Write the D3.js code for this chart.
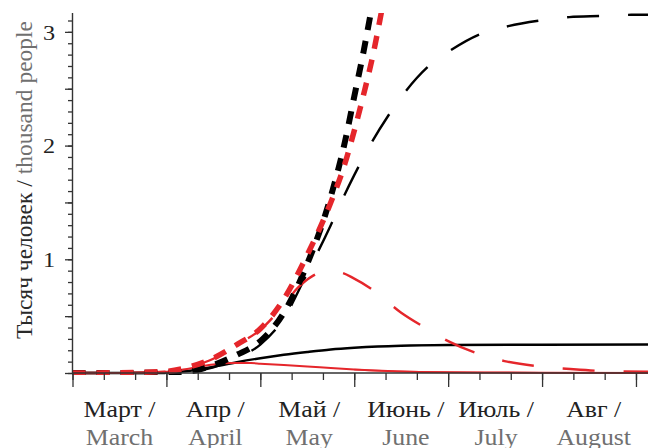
<!DOCTYPE html>
<html><head><meta charset="utf-8">
<script src="https://cdn.jsdelivr.net/npm/d3@7"></script>
<style>body{margin:0;background:#fff}svg{display:block}</style>
</head><body><svg id="c" width="648" height="448"></svg>
<script>
// x in month units: 0 = 1 March, 1 = 1 April, ...
const monthsRu = ["Март /","Апр /","Май /","Июнь /","Июль /","Авг /"];
const monthsEn = ["March","April","May","June","July","August"];
const yTickLabels = [1,2,3];

const blackSolidX = [0,0.5,1.0,1.25,1.5,1.75,2.0,2.25,2.5,2.75,3.0,3.25,3.5,4.0,5.0,6.13];
const blackSolidY = [0,0,0.005,0.02,0.055,0.095,0.13,0.16,0.185,0.207,0.222,0.233,0.24,0.246,0.249,0.25];

const redSolidX = [0,0.5,1.0,1.25,1.5,1.7,1.9,2.0,2.25,2.5,2.75,3.0,3.5,4.0,4.5,5.0,6.13];
const redSolidY = [0,0,0.01,0.04,0.075,0.088,0.087,0.082,0.07,0.058,0.043,0.03,0.014,0.007,0.004,0.002,0];

const blackLongX = [0,0.5,1.0,1.25,1.5,1.75,2.0,2.25,2.5,2.75,2.87,3.0,3.18,3.36,3.54,3.78,4.03,4.34,4.64,4.98,5.29,5.63,5.95,6.13];
const blackLongY = [0,0,0,0.01,0.05,0.13,0.25,0.48,0.88,1.3,1.52,1.74,2.02,2.26,2.47,2.69,2.84,2.98,3.05,3.10,3.13,3.14,3.15,3.15];

const redLongX = [0,0.5,1.0,1.25,1.5,1.75,2.0,2.25,2.4,2.55,2.7,2.85,3.0,3.2,3.5,3.75,4.0,4.3,4.6,5.0,5.3,5.65,6.13];
const redLongY = [0,0,0.012,0.055,0.125,0.25,0.38,0.6,0.75,0.85,0.895,0.885,0.83,0.73,0.53,0.4,0.28,0.175,0.105,0.055,0.035,0.018,0.012];

const blackDotX = [0,0.5,1.0,1.25,1.5,1.75,2.0,2.25,2.5,2.75,2.9,3.0,3.1,3.15,3.25];
const blackDotY = [0,0,0.005,0.015,0.07,0.16,0.28,0.53,0.96,1.55,2.03,2.43,2.83,3.05,3.5];

const redDotX = [0,0.5,1.0,1.25,1.5,1.75,2.0,2.25,2.5,2.75,2.9,3.0,3.1,3.2,3.27,3.35];
const redDotY = [0,0.003,0.015,0.055,0.13,0.25,0.39,0.65,1.04,1.5,1.84,2.13,2.45,2.8,3.09,3.45];

const RED = "#e5262b", GRAY = "#707070", DARK = "#222";
const svg = d3.select("#c");
const x = d3.scaleLinear().domain([0, 6.128]).range([72.5, 648]);
const y = d3.scaleLinear().domain([0, 3.166]).range([373, 13]);

svg.append("defs").append("clipPath").attr("id","clip")
  .append("rect").attr("x",72).attr("y",13).attr("width",576).attr("height",362);

const line = d3.line().x(d=>x(d[0])).y(d=>y(d[1])).curve(d3.curveMonotoneX);
const series = [
  {xs:blackSolidX, ys:blackSolidY, c:"#000", w:2.4, dash:null},
  {xs:redSolidX, ys:redSolidY, c:RED, w:2.0, dash:null},
  {xs:blackLongX, ys:blackLongY, c:"#000", w:2.4, dash:"32,29"},
  {xs:redLongX, ys:redLongY, c:RED, w:2.4, dash:"32,29"},
  {xs:blackDotX, ys:blackDotY, c:"#000", w:6, dash:"13,11"},
  {xs:redDotX, ys:redDotY, c:RED, w:5.5, dash:"13,11"}
];
const g = svg.append("g").attr("clip-path","url(#clip)");
series.forEach(s=>{
  g.append("path").datum(s.xs.map((v,i)=>[v,s.ys[i]]))
    .attr("d",line).attr("fill","none").attr("stroke",s.c)
    .attr("stroke-width",s.w).attr("stroke-dasharray",s.dash);
});

// axes
const AX = "#333";
const yMinor = d3.range(0, 3.11, 0.1).map(v=>+v.toFixed(1));
const yAxisMinor = d3.axisLeft(y).tickValues(yMinor).tickSize(4.5).tickFormat("");
const yAxisMajor = d3.axisLeft(y).tickValues([0,0.5,1,1.5,2,2.5,3]).tickSize(7.5).tickFormat("");
[yAxisMinor,yAxisMajor].forEach(a=>{
  const ga = svg.append("g").attr("transform",`translate(${x(0)},0)`).call(a);
  ga.select(".domain").remove();
  ga.selectAll("line").attr("stroke",AX).attr("stroke-width",1.3);
});
svg.append("line").attr("x1",x(0)).attr("x2",x(0)).attr("y1",y(3.166)).attr("y2",y(0)+1)
  .attr("stroke",AX).attr("stroke-width",1.4);
yTickLabels.forEach(v=>{
  svg.append("text").attr("transform",`translate(55,${y(v)}) scale(1.1,1)`).attr("dy","0.35em")
    .attr("text-anchor","end").attr("font-family","Liberation Serif")
    .attr("font-size",22).attr("fill",DARK).text(v);
});

const xMinor = d3.range(0, 19).map(i=>i/3).filter(v=>v<=6.128);
const xAxisMinor = d3.axisBottom(x).tickValues(xMinor).tickSize(7).tickFormat("");
const xAxisMajor = d3.axisBottom(x).tickValues(d3.range(0,7)).tickSize(14).tickFormat("");
[xAxisMinor,xAxisMajor].forEach(a=>{
  const ga = svg.append("g").attr("transform",`translate(0,${y(0)})`).call(a);
  ga.select(".domain").remove();
  ga.selectAll("line").attr("stroke",AX).attr("stroke-width",1.3);
});
svg.append("line").attr("x1",x(0)).attr("x2",648).attr("y1",y(0)).attr("y2",y(0))
  .attr("stroke",AX).attr("stroke-width",1.4);
// red solid tail lies on the axis in the reference
g.append("path").datum(redSolidX.map((v,i)=>[v,redSolidY[i]]).filter(d=>d[0]>=3))
  .attr("d",line).attr("fill","none").attr("stroke",RED).attr("stroke-width",1.6).attr("opacity",0.7);

const xc = [0.5,0.52,0.52,0.55,0.51,0.55];
monthsRu.forEach((t,i)=>{
  svg.append("text").attr("transform",`translate(${x(i+xc[i])},417) scale(1.1,1)`).attr("text-anchor","middle")
    .attr("font-family","Liberation Serif").attr("font-size",23.5).attr("fill",DARK).text(t);
  svg.append("text").attr("transform",`translate(${x(i+xc[i])},445) scale(1.1,1)`).attr("text-anchor","middle")
    .attr("font-family","Liberation Serif").attr("font-size",23.5).attr("fill",GRAY).text(monthsEn[i]);
});

const yt = svg.append("text").attr("transform","translate(32,180) rotate(-90)")
  .attr("text-anchor","middle").attr("font-family","Liberation Serif").attr("font-size",23.5);
yt.append("tspan").attr("fill","#2a2a2a").text("Тысяч человек / ");
yt.append("tspan").attr("fill",GRAY).text("thousand people");
</script></body></html>
